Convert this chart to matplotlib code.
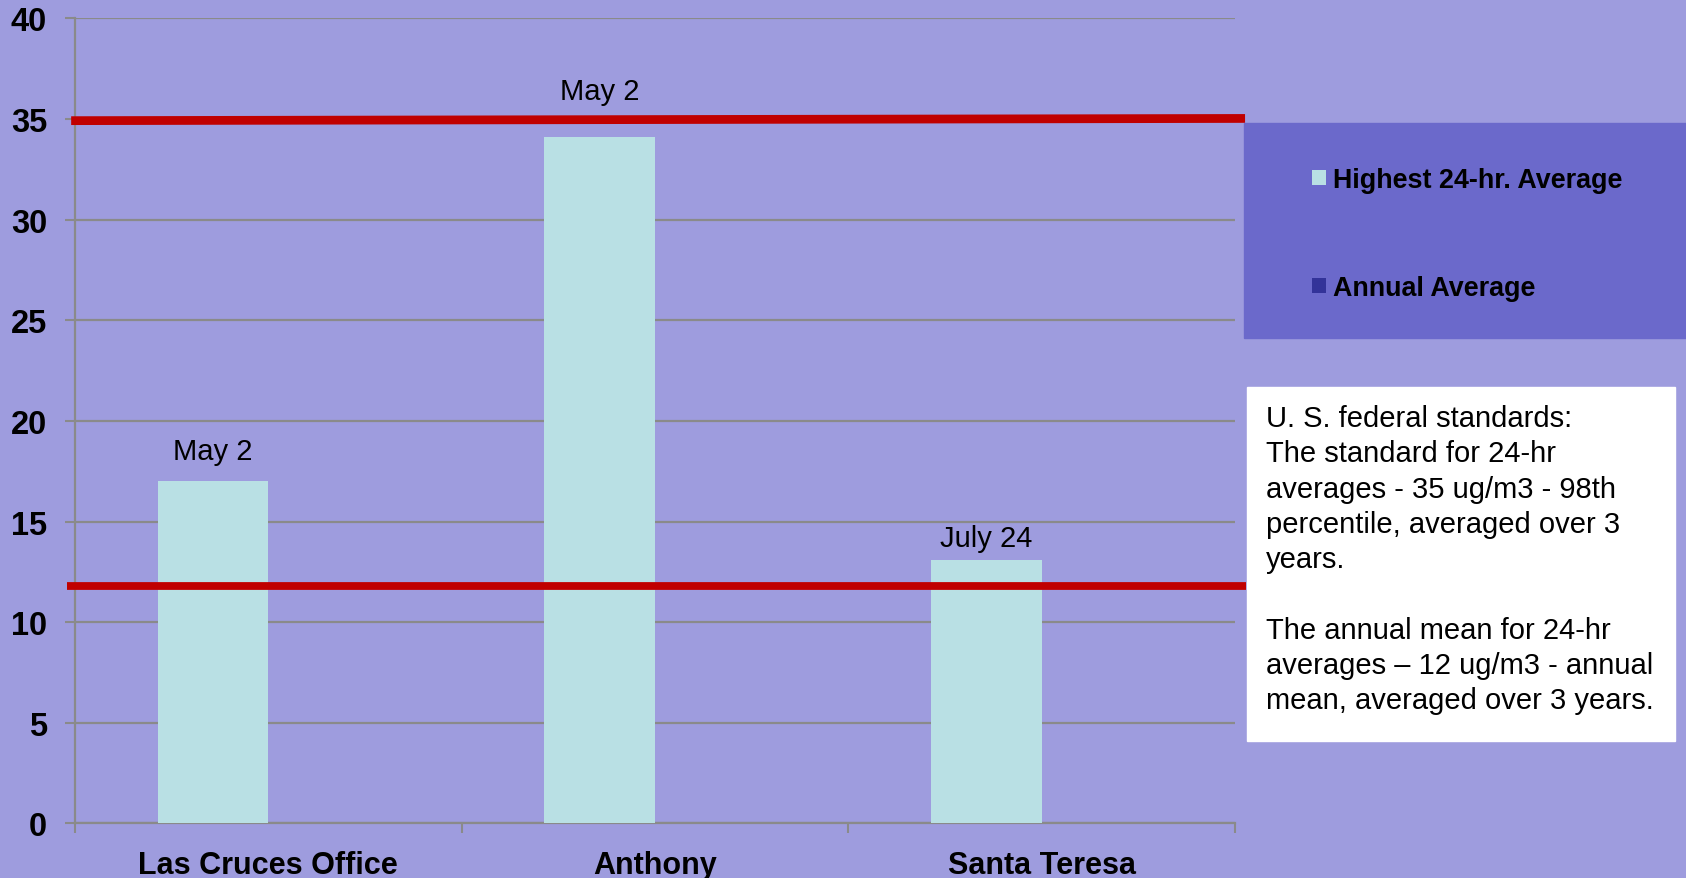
import numpy as np
import matplotlib.pyplot as plt
from matplotlib.patches import Rectangle

plt.rcParams['font.family'] = ['Liberation Sans', 'DejaVu Sans']

sites = ['Las Cruces Office', 'Anthony', 'Santa Teresa']
highest = [17.0, 34.1, 13.1]
annual = [np.nan, np.nan, np.nan]
dates = ['May 2', 'May 2', 'July 24']
date_offsets = [22, 33.5, 16]   # label placement above each bar, in points
std_24hr = 35.0
std_annual = 11.8
note = ('U. S. federal standards:\n'
        'The standard for 24-hr\n'
        'averages - 35 ug/m3 - 98th\n'
        'percentile, averaged over 3\n'
        'years.\n'
        '\n'
        'The annual mean for 24-hr\n'
        'averages \u2013 12 ug/m3 - annual\n'
        'mean, averaged over 3 years.')

BG = '#9e9cde'
GRID = '#8a8a8a'

fig = plt.figure(figsize=(16.86, 8.79), dpi=100)
fig.patch.set_facecolor(BG)
ax = fig.add_axes([0.0445, 0.0621, 0.688, 0.9158])
ax.set_facecolor(BG)

x = np.arange(len(sites))
w = 0.286
b1 = ax.bar(x - w / 2, highest, w, color='#b9e0e4', label='Highest 24-hr. Average', zorder=3)
b2 = ax.bar(x + w / 2, annual, w, color='#333399', label='Annual Average', zorder=3)

for xi, h, d, off in zip(x, highest, dates, date_offsets):
    ax.annotate(d, (xi - w / 2, h), xytext=(0, off), textcoords='offset points',
                ha='center', va='center', fontsize=21, color='black')

# standard lines
ax.plot([-0.51, 2.526], [std_24hr - 0.08, std_24hr + 0.03], color='#c00000', lw=6.3,
        clip_on=False, zorder=4, solid_capstyle='butt')
ax.plot([-0.521, 2.528], [std_annual, std_annual], color='#c00000', lw=5.6,
        clip_on=False, zorder=4, solid_capstyle='butt')

ax.set_xlim(-0.5, 2.5)
ax.set_ylim(0, 40)
ax.set_yticks(range(0, 41, 5))
ax.yaxis.grid(True, color=GRID, lw=1.6, zorder=0)
ax.set_axisbelow(True)
ax.set_xticks(x)
ax.set_xticklabels(sites, fontsize=22, fontweight='bold')
ax.set_xticks([-0.5, 0.5, 1.5, 2.5], minor=True)
ax.tick_params(axis='x', which='major', length=0, pad=19)
ax.tick_params(axis='x', which='minor', length=7, width=1.5, color=GRID)
ax.tick_params(axis='y', length=7, width=1.5, color=GRID, pad=13, labelsize=23.5)
for lab in ax.get_yticklabels():
    lab.set_fontweight('bold')
for s in ['top', 'right']:
    ax.spines[s].set_visible(False)
for s in ['left', 'bottom']:
    ax.spines[s].set_color(GRID)
    ax.spines[s].set_linewidth(1.6)

# legend panel
fig.patches.append(Rectangle((1244 / 1686, 1 - 339 / 879), 442 / 1686, 215 / 879,
                             transform=fig.transFigure, color='#6b69cb', zorder=1))
leg = fig.legend(handles=[b1, b2], loc='upper left', bbox_to_anchor=(1312 / 1686, 1 - 168 / 879),
                 frameon=False, fontsize=19.4, handlelength=0.52, handleheight=0.52,
                 handletextpad=0.25, labelspacing=3.04, borderpad=0, borderaxespad=0)
for t in leg.get_texts():
    t.set_fontweight('bold')

# note box
fig.patches.append(Rectangle((1247 / 1686, 1 - 742 / 879), 428 / 1686, 354 / 879,
                             transform=fig.transFigure, color='white', zorder=1))
fig.text(1266 / 1686, 1 - 405 / 879, note, ha='left', va='top', fontsize=21,
         linespacing=1.33, color='black')

fig.savefig('out.png', dpi=100, facecolor=BG)
